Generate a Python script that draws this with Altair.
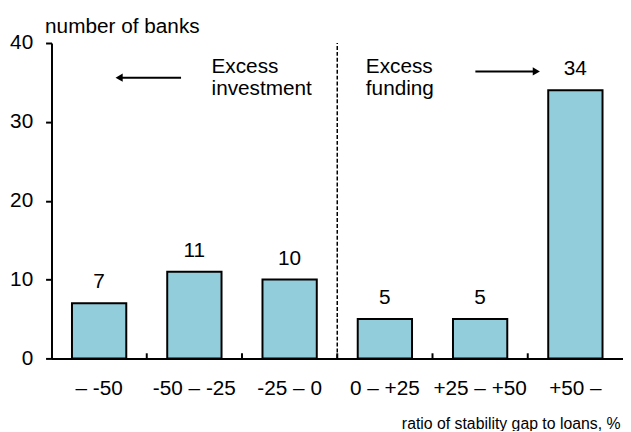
import altair as alt
import pandas as pd

# ---- data ----
categories = ["– -50", "-50 – -25", "-25 – 0", "0 – +25", "+25 – +50", "+50 –"]
banks = [7, 11, 10, 5, 5, 34]
y_ticks = [0, 10, 20, 30, 40]
boundaries = [1, 2, 3, 4, 5]          # band boundaries (in category units)
divider_at = [3]                      # dashed separator between -25–0 and 0–+25

ann_text = ["Excess", "investment", "Excess", "funding"]
ann_x = [1.68, 1.68, 3.30, 3.30]
ann_y = [36.2, 33.4, 36.2, 33.4]

arrow_start = [1.36, 4.45]
arrow_end = [0.71, 5.09]
arrow_y = [35.6, 36.4]
arrow_head = [0.71, 5.09]
arrow_shape = ["triangle-left", "triangle-right"]

# ---- layout / style ----
W, H = 578, 319
FONT = "Liberation Sans"
FS = 21

df = pd.DataFrame({"cat": categories, "n": banks})
xb = alt.Scale(domain=categories, paddingInner=0.43, paddingOuter=0.215)
ys = alt.Scale(domain=[0, 40], nice=False, zero=True)
xq = alt.Scale(domain=[0, 6], nice=False, zero=False)

bars = alt.Chart(df).mark_bar(color="#92CDDC", stroke="black", strokeWidth=2).encode(
    x=alt.X("cat:N", sort=categories, scale=xb, axis=alt.Axis(
        title="ratio of stability gap to loans, %", labelAngle=0, ticks=False,
        labelPadding=19, labelFont=FONT, labelFontSize=FS, labelColor="black",
        domainColor="black", domainWidth=2,
        titleFont=FONT, titleFontSize=16, titleFontWeight="normal", titleColor="black",
        titleX=575, titleY=71, titleAlign="right", titleBaseline="alphabetic")),
    y=alt.Y("n:Q", scale=ys, axis=alt.Axis(
        values=y_ticks, grid=False, title="number of banks",
        domainColor="black", domainWidth=2, tickColor="black", tickWidth=2, tickSize=6,
        labelFont=FONT, labelFontSize=FS, labelColor="black", labelPadding=13,
        titleFont=FONT, titleFontSize=FS, titleFontWeight="normal", titleColor="black",
        titleAngle=0, titleX=-7, titleY=-11, titleAlign="left", titleBaseline="alphabetic")),
)

labels = alt.Chart(df).mark_text(dy=-15, baseline="alphabetic", font=FONT, fontSize=FS,
                                 color="black").encode(
    x=alt.X("cat:N", sort=categories, scale=xb, axis=None),
    y=alt.Y("n:Q", scale=ys, axis=None),
    text="n:Q",
)

ticks = alt.Chart(pd.DataFrame({"b": boundaries})).mark_rule(color="black", strokeWidth=2).encode(
    x=alt.X("b:Q", scale=xq, axis=None),
    y=alt.YDatum(datum=0, scale=ys, axis=None),
    y2=alt.Y2Datum(datum=0.65),
)

divider = alt.Chart(pd.DataFrame({"b": divider_at})).mark_rule(
    color="black", strokeWidth=1.5, strokeDash=[4, 2]).encode(
    x=alt.X("b:Q", scale=xq, axis=None),
    y=alt.YDatum(datum=0, scale=ys, axis=None),
    y2=alt.Y2Datum(datum=40),
)

arr_df = pd.DataFrame({"x1": arrow_start, "x2": arrow_end, "y": arrow_y,
                       "hx": arrow_head, "shape": arrow_shape})
arrows = alt.Chart(arr_df).mark_rule(color="black", strokeWidth=2).encode(
    x=alt.X("x1:Q", scale=xq, axis=None),
    x2="x2:Q",
    y=alt.Y("y:Q", scale=ys, axis=None),
)
heads = alt.Chart(arr_df).mark_point(filled=True, color="black", size=70, opacity=1).encode(
    x=alt.X("hx:Q", scale=xq, axis=None),
    y=alt.Y("y:Q", scale=ys, axis=None),
    shape=alt.Shape("shape:N", scale=None),
)

ann_df = pd.DataFrame({"t": ann_text, "x": ann_x, "y": ann_y})
texts = alt.Chart(ann_df).mark_text(align="left", baseline="alphabetic", font=FONT,
                                    fontSize=FS, color="black").encode(
    x=alt.X("x:Q", scale=xq, axis=None),
    y=alt.Y("y:Q", scale=ys, axis=None),
    text="t:N",
)

chart = alt.layer(bars, labels, ticks, divider, arrows, heads, texts).resolve_scale(
    x="independent", y="independent"
).properties(
    width=W, height=H,
    autosize=alt.AutoSizeParams(type="none"),
    padding={"left": 44, "top": 33, "right": 0, "bottom": 71},
).configure_view(stroke=None)

chart.save("out.html", embed_options={"renderer": "svg", "actions": False})
